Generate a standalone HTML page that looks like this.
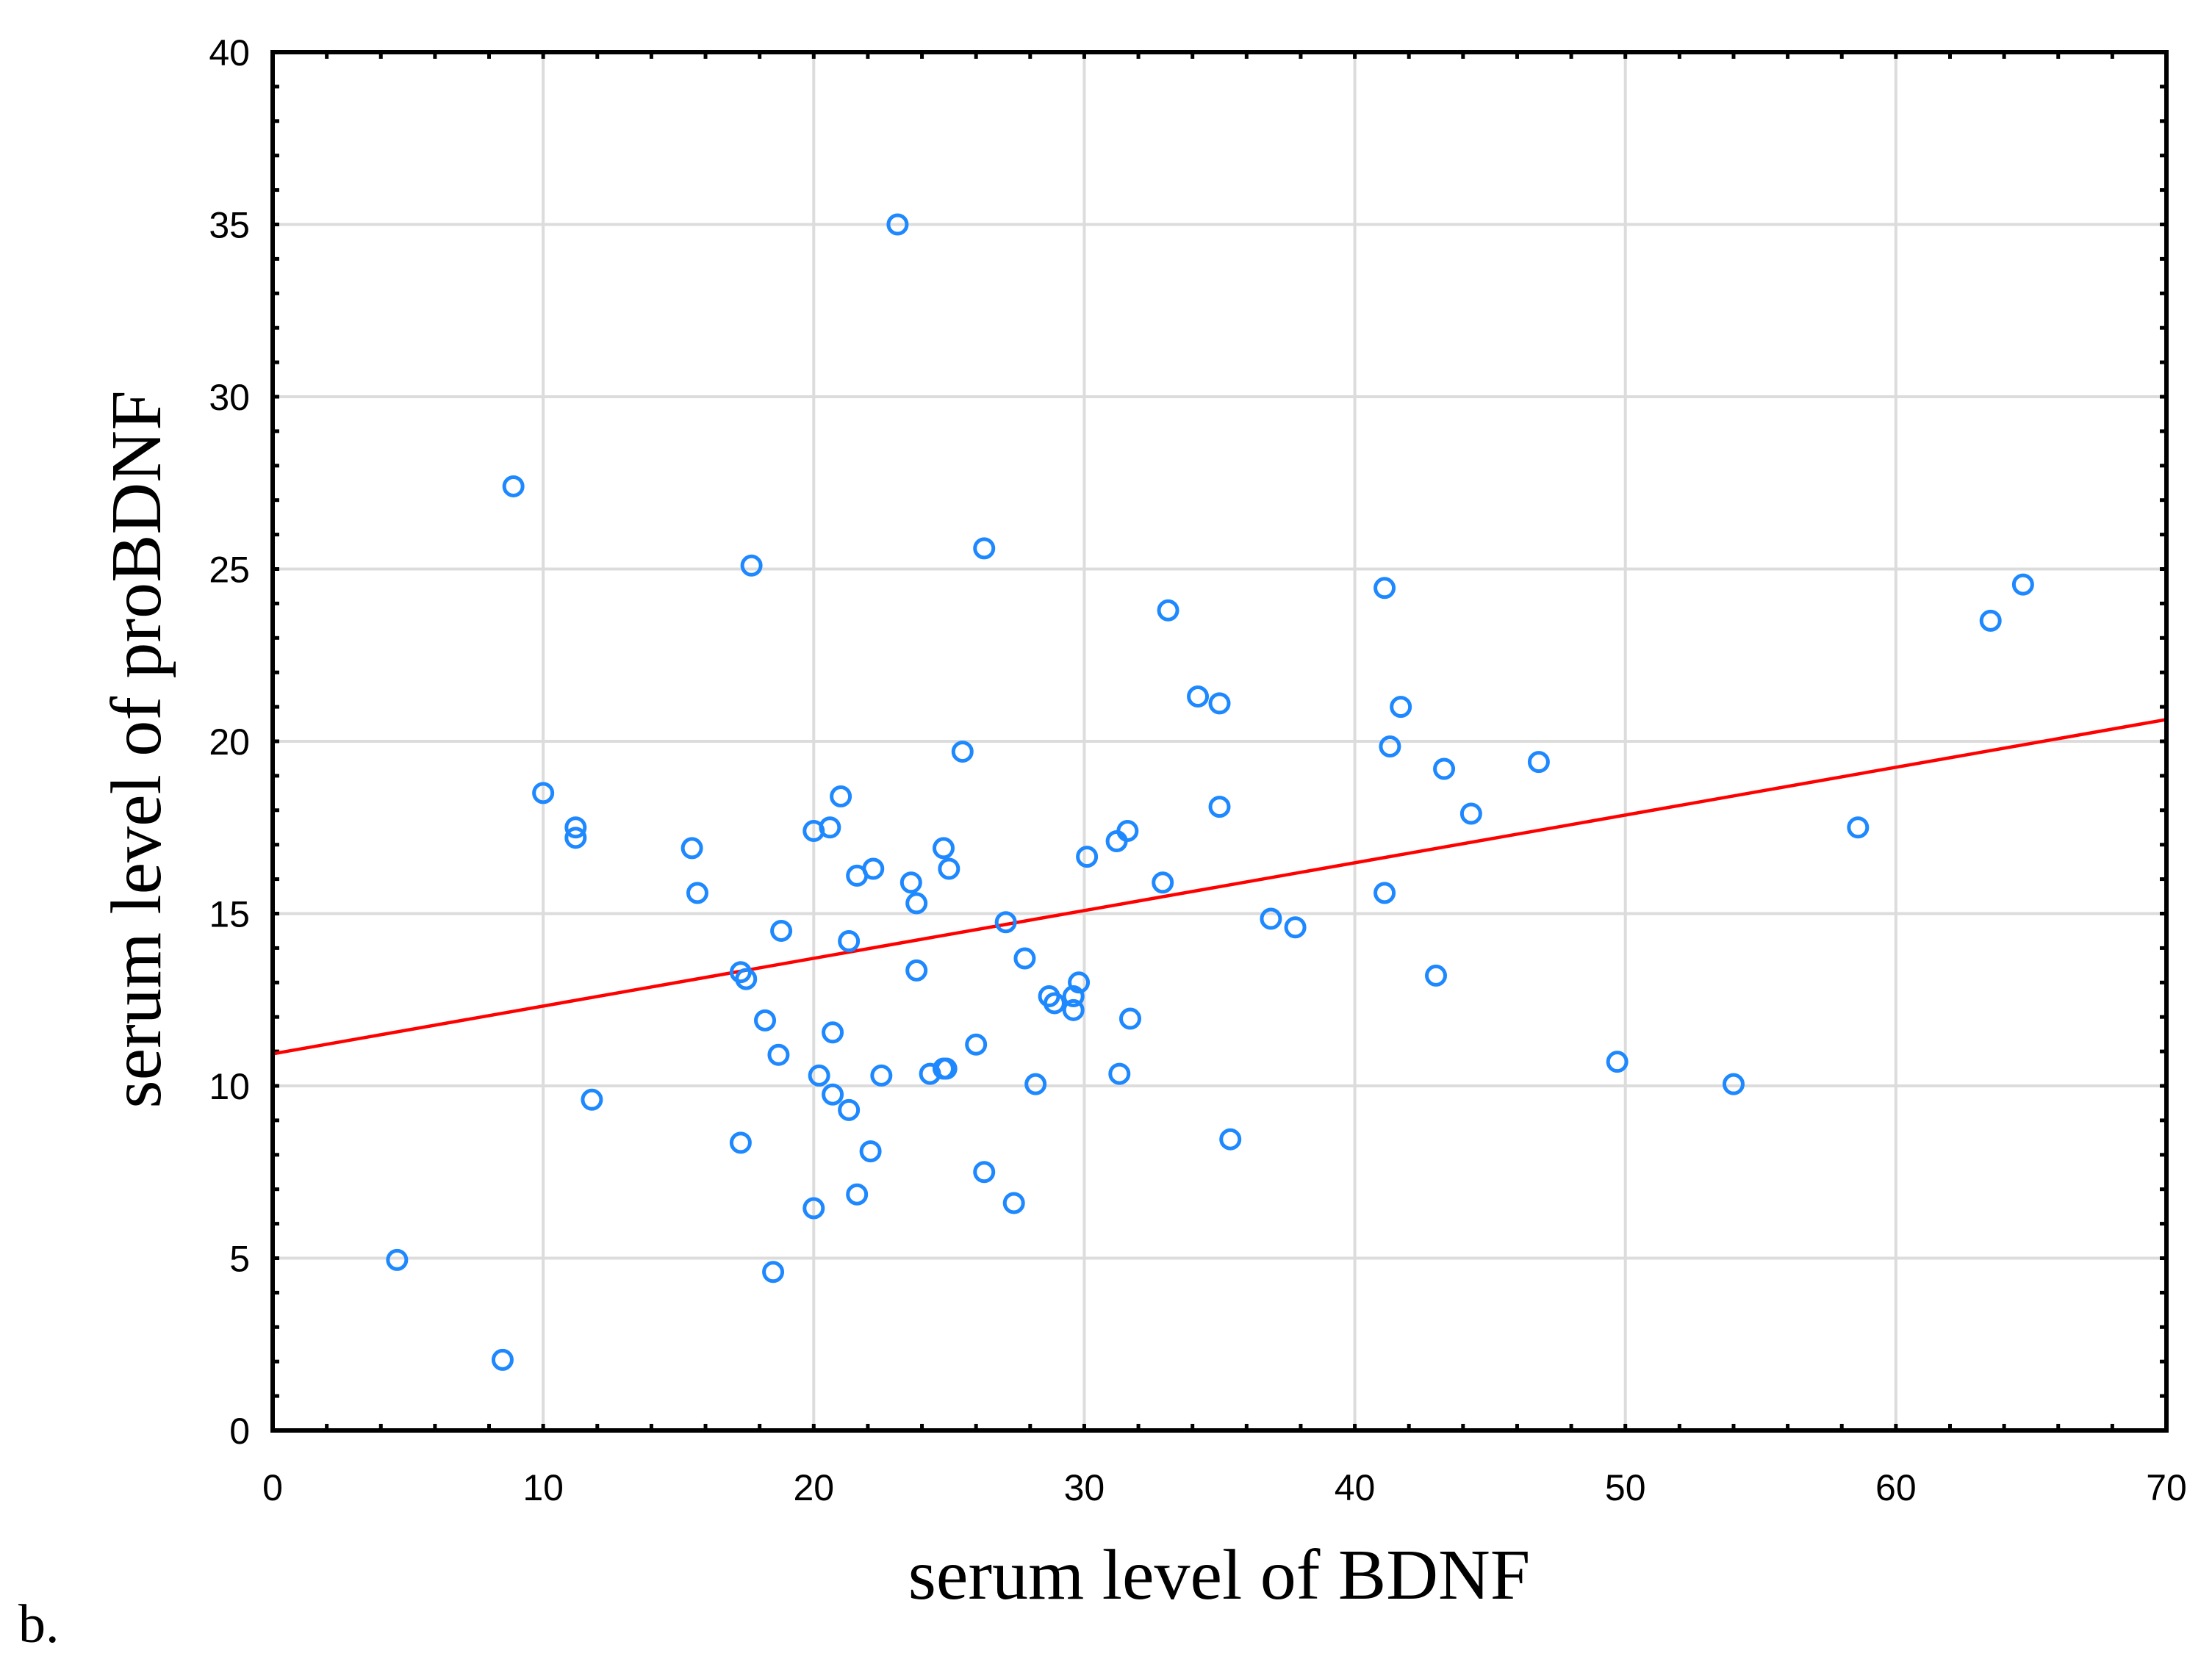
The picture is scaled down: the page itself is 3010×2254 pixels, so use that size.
<!DOCTYPE html>
<html><head><meta charset="utf-8"><style>
html,body{margin:0;padding:0;background:#fff;}
svg{display:block;}
</style></head><body>
<svg id="chart" width="3010" height="2254" viewBox="0 0 3010 2254" xmlns="http://www.w3.org/2000/svg"></svg>
<script>
const xTicks = [0,10,20,30,40,50,60,70];
const yTicks = [0,5,10,15,20,25,30,35,40];
const bdnf = [4.6,8.5,8.9,10.0,11.2,11.2,11.8,15.5,15.7,17.3,17.5,17.3,17.7,18.2,18.7,18.8,18.5,20.0,20.2,20.0,20.6,20.7,20.7,21.0,21.3,21.3,21.6,21.6,22.1,22.2,22.5,23.1,23.6,23.8,23.8,24.3,24.8,24.9,24.8,25.0,25.5,26.0,26.3,26.3,27.1,27.4,27.8,28.2,28.7,28.9,29.6,29.6,29.8,30.1,31.2,31.3,31.6,31.7,32.9,33.1,34.2,35.0,35.0,35.4,36.9,37.8,41.1,41.1,41.3,41.7,43.0,43.3,44.3,46.8,49.7,54.0,58.6,63.5,64.7];
const proBdnf = [4.95,2.05,27.4,18.5,17.5,17.2,9.6,16.9,15.6,13.3,13.1,8.35,25.1,11.9,10.9,14.5,4.6,17.4,10.3,6.45,17.5,11.55,9.75,18.4,14.2,9.3,16.1,6.85,8.1,16.3,10.3,35.0,15.9,15.3,13.35,10.35,10.5,10.5,16.9,16.3,19.7,11.2,25.6,7.5,14.75,6.6,13.7,10.05,12.6,12.4,12.6,12.2,13.0,16.65,17.1,10.35,17.4,11.95,15.9,23.8,21.3,21.1,18.1,8.45,14.85,14.6,24.45,15.6,19.85,21.0,13.2,19.2,17.9,19.4,10.7,10.05,17.5,23.5,24.55];
const fitIntercept = 10.93;
const fitSlope = 0.1386;

const L=371,R=2948,T=71,B=1947;
const xMin=0,xMax=70,yMin=0,yMax=40;
const sx=v=>L+(v-xMin)/(xMax-xMin)*(R-L);
const sy=v=>B-(v-yMin)/(yMax-yMin)*(B-T);
const svg=document.getElementById('chart');
const NS='http://www.w3.org/2000/svg';
function mk(tag,attrs,parent){const e=document.createElementNS(NS,tag);for(const k in attrs)e.setAttribute(k,attrs[k]);(parent||svg).appendChild(e);return e;}

const grid=mk('g',{});


xTicks.forEach(t=>{if(t>xMin&&t<xMax){const l=mk('line',{x1:sx(t),x2:sx(t),y1:T,y2:B,stroke:'#dcdcdc','stroke-width':4},grid);

}});
yTicks.forEach(t=>{if(t>yMin&&t<yMax){const l=mk('line',{x1:L,x2:R,y1:sy(t),y2:sy(t),stroke:'#dcdcdc','stroke-width':4},grid);

}});

const ticks=mk('g',{stroke:'#000','stroke-width':5});


for(let v=xMin;v<=xMax;v+=2){mk('line',{x1:sx(v),x2:sx(v),y1:B,y2:B-9},ticks);mk('line',{x1:sx(v),x2:sx(v),y1:T,y2:T+9},ticks);}
for(let v=yMin;v<=yMax;v+=1){mk('line',{x1:L,x2:L+9,y1:sy(v),y2:sy(v)},ticks);mk('line',{x1:R,x2:R-9,y1:sy(v),y2:sy(v)},ticks);}

const fit=mk('line',{x1:sx(xMin),y1:sy(fitIntercept+fitSlope*xMin),x2:sx(xMax),y2:sy(fitIntercept+fitSlope*xMax),stroke:'#ff0000','stroke-width':4.5});



const pts=mk('g',{});


bdnf.forEach((x,i)=>{const c=mk('circle',{cx:sx(x),cy:sy(proBdnf[i]),r:12.5,fill:'none',stroke:'#1e88ff','stroke-width':5},pts);

});

const frame=mk('rect',{x:L,y:T,width:R-L,height:B-T,fill:'none',stroke:'#000','stroke-width':6});



const lab=mk('g',{'font-family':'"Liberation Sans", Arial, sans-serif','font-size':50,fill:'#000'});


xTicks.forEach(t=>{const e=mk('text',{x:sx(t),y:2042,'text-anchor':'middle'},lab);e.textContent=t;

});
yTicks.forEach(t=>{const e=mk('text',{x:340,y:sy(t)+18,'text-anchor':'end'},lab);e.textContent=t;

});

const xt=mk('text',{x:1659,y:2176,'text-anchor':'middle','font-family':'"Liberation Serif", serif','font-size':98});
xt.textContent='serum level of BDNF';


const yt=mk('text',{x:0,y:0,'text-anchor':'middle','font-family':'"Liberation Serif", serif','font-size':98,transform:'translate(218,1020) rotate(-90)'});
yt.textContent='serum level of proBDNF';


const pl=mk('text',{x:25,y:2235,'font-family':'"Liberation Serif", serif','font-size':74});
pl.textContent='b.';


</script>
</body></html>
